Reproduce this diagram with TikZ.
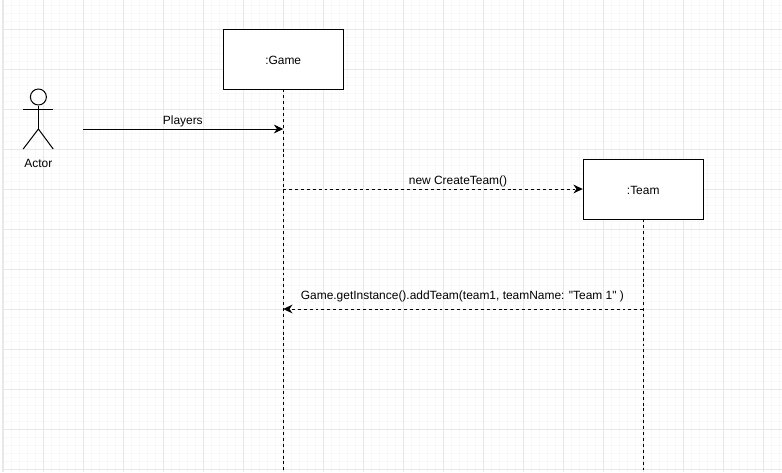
\documentclass[tikz,border=0pt]{standalone}
\usepackage{fontspec}
\newfontfamily\labelfont{Liberation Sans}
\usetikzlibrary{arrows.meta, positioning}
\definecolor{cmajor}{HTML}{E8E8E8}
\definecolor{cminor}{HTML}{F8F8F8}
\tikzset{
  every picture/.style={line width=0.71pt},
  obj/.style={draw=black, fill=white, align=center, minimum width=3cm, minimum height=1.5cm, inner sep=0pt, text height=7.4pt, font=\labelfont\fontsize{8.5}{10}\selectfont},
  msg/.style={font=\labelfont\fontsize{8.5}{10}\selectfont, inner sep=0pt},
  arrow/.style={-{Stealth[length=6.6pt, width=6.2pt]}, draw=black},
  lifeline/.style={draw=black, dash pattern=on 2.1pt off 2.1pt},
  dasharrow/.style={arrow, dash pattern=on 2.1pt off 2.1pt},
}

\begin{document}
\begin{tikzpicture}[x=1cm, y=-1cm]
  \useasboundingbox (0,0) rectangle (19.55,11.8);
  \fill[white] (0,0) rectangle (19.55,11.8);
  % grid
  \foreach \i in {0,...,97} \draw[cminor] (0.075+\i*0.2,0) -- (0.075+\i*0.2,11.8);
  \foreach \i in {0,...,58} \draw[cminor] (0.075,0.125+\i*0.2) -- (19.55,0.125+\i*0.2);
  \foreach \i in {0,...,19} \draw[cmajor] (0.075+\i,0) -- (0.075+\i,11.8);
  \foreach \i in {0,...,11} \draw[cmajor] (0.075,0.725+\i) -- (19.55,0.725+\i);
  \draw[cmajor, line width=1.4pt] (0.075,0) -- (0.075,11.8);

  \node[obj] (game) at (7.08,1.475) {:Game};
  \node[obj] (team) at (16.08,4.725) {:Team};
  \coordinate (gameend) at (7.08,11.8);
  \coordinate (teamend) at (16.08,11.8);
  \coordinate (start) at (2.08,3.225);
  \coordinate (gamep) at (7.08,3.225);
  \coordinate (gamec) at (7.08,4.725);
  \coordinate (gamea) at (7.08,7.725);
  \coordinate (teama) at (16.08,7.725);
  \draw[lifeline] (game.south) -- (gameend);
  \draw[lifeline] (team.south) -- (teamend);

  % actor
  \node[draw=black, fill=white, circle, minimum size=0.4cm, inner sep=0pt] (head) at (0.96,2.425) {};
  \coordinate (hip) at (0.96,3.225);
  \coordinate (armleft) at (0.58,2.725);
  \coordinate (armright) at (1.33,2.725);
  \coordinate (footleft) at (0.58,3.725);
  \coordinate (footright) at (1.33,3.725);
  \draw (head.south) -- (hip);
  \draw (armleft) -- (armright);
  \draw (footleft) -- (hip) -- (footright);
  \node[msg] (actor) at (0.96,4.09) {Actor};

  \draw[arrow] (start) -- (gamep);
  \draw[dasharrow] (gamec) -- (team.west);
  \draw[dasharrow] (teama) -- (gamea);
  \node[msg] (players) at (4.57,3.04) {Players};
  \node[msg] (create) at (11.45,4.54) {new CreateTeam()};
  \node[msg] (add) at (11.56,7.42) {Game.getInstance().addTeam(team1, teamName: "Team 1" )};
\end{tikzpicture}
\end{document}
